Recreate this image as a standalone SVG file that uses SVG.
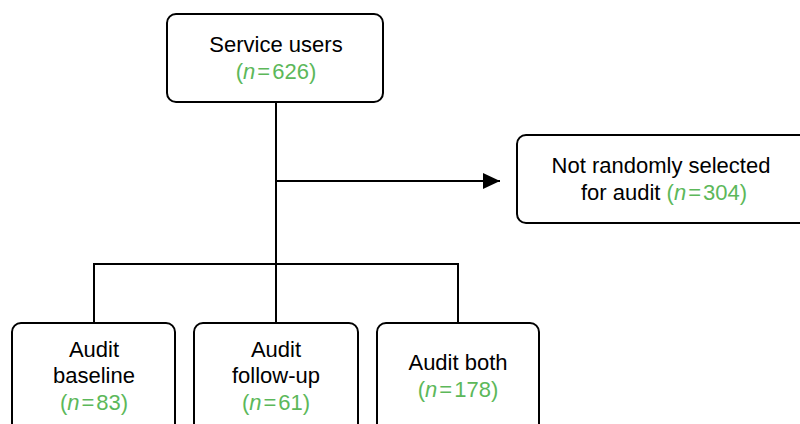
<svg xmlns="http://www.w3.org/2000/svg" width="800" height="424" viewBox="0 0 800 424">
<style>
.box{fill:#fff;stroke:#000;stroke-width:2}
.t{font-family:"Liberation Sans",Arial,sans-serif;font-size:22px;fill:#000;text-anchor:middle}
.g{fill:#5cb85a}
.i{font-style:italic}
.c{fill:none;stroke:#000;stroke-width:2}
</style>
<defs>
<marker id="ah" markerUnits="userSpaceOnUse" markerWidth="18" markerHeight="18" viewBox="0 0 18 18" refX="17" refY="9" orient="auto">
<path d="M0,1 L17,9 L0,17 Z" fill="#000"/>
</marker>
</defs>
<rect width="800" height="424" fill="#fff"/>
<g id="connectors">
<path class="c" d="M276,102 V323"/>
<path class="c" d="M276,181 H500" marker-end="url(#ah)"/>
<path class="c" d="M94,323 V264 H458 V323"/>
</g>
<g id="service-users">
<rect class="box" x="167" y="14" width="216" height="88" rx="9"/>
<text class="t" x="276" y="52">Service users</text>
<text class="t g" x="276" y="79">(<tspan class="i">n</tspan><tspan dx="2">=</tspan><tspan dx="2">626)</tspan></text>
</g>
<g id="not-selected">
<rect class="box" x="517" y="135" width="295" height="88" rx="9"/>
<text class="t" x="661" y="173">Not randomly selected</text>
<text class="t" x="664" y="200">for audit <tspan class="g">(<tspan class="i">n</tspan><tspan dx="2">=</tspan><tspan dx="2">304)</tspan></tspan></text>
</g>
<g id="audit-baseline">
<rect class="box" x="12" y="323" width="163" height="120" rx="9"/>
<text class="t" x="94" y="357">Audit</text>
<text class="t" x="94" y="383">baseline</text>
<text class="t g" x="94" y="410">(<tspan class="i">n</tspan><tspan dx="2">=</tspan><tspan dx="2">83)</tspan></text>
</g>
<g id="audit-follow-up">
<rect class="box" x="194" y="323" width="164" height="120" rx="9"/>
<text class="t" x="276" y="357">Audit</text>
<text class="t" x="276" y="383">follow-up</text>
<text class="t g" x="276" y="410">(<tspan class="i">n</tspan><tspan dx="2">=</tspan><tspan dx="2">61)</tspan></text>
</g>
<g id="audit-both">
<rect class="box" x="377" y="323" width="162" height="120" rx="9"/>
<text class="t" x="458" y="370">Audit both</text>
<text class="t g" x="458" y="397">(<tspan class="i">n</tspan><tspan dx="2">=</tspan><tspan dx="2">178)</tspan></text>
</g>
</svg>
